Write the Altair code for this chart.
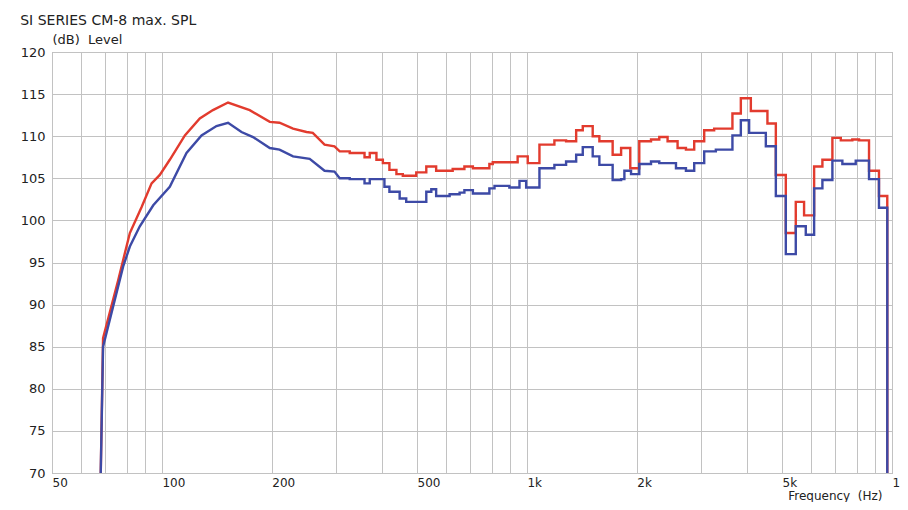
import altair as alt
import pandas as pd

TITLE = "SI SERIES CM-8 max. SPL"
Y_TITLE = "(dB)\u00a0\u00a0Level"
X_TITLE = "Frequency\u00a0\u00a0(Hz)"

GRID_FREQS = [50, 60, 70, 80, 90, 100, 200, 300, 400, 500, 600, 700, 800, 900,
              1000, 2000, 3000, 4000, 5000, 6000, 7000, 8000, 9000, 10000]
LABEL_FREQS = [50, 100, 200, 500, 1000, 2000, 5000, 10000]
Y_TICKS = [70, 75, 80, 85, 90, 95, 100, 105, 110, 115, 120]

# red curve: smooth low-frequency part
RED_LOW_FREQ = [68, 69, 75.9, 81.7, 88.0, 93.7, 98.7, 105.1, 115.6, 127, 138, 151.8,
                174, 197.5, 210, 228.7, 249, 259, 279, 297]
RED_LOW_LEVEL = [70, 86.0, 92.9, 98.5, 101.6, 104.4, 105.4, 107.2, 110.1, 112.1, 113.1, 114.0,
                 113.1, 111.7, 111.6, 110.9, 110.5, 110.4, 109.0, 108.8]
# red curve: banded part (band edges in Hz, level per band)
RED_EDGES = [307, 327, 359, 371, 387, 403, 420, 439, 457, 497.5, 530, 564, 626, 674, 711,
             789, 806, 943, 1005, 1082, 1189, 1280, 1364, 1422, 1514, 1579, 1717, 1811, 1919,
             2031, 2187, 2304, 2428, 2586, 2726, 2872, 3059, 3257, 3655, 3854, 4105, 4558,
             4806, 5118, 5450, 5743, 6119, 6447, 6866, 7240, 7786, 8122, 8651, 9211, 9706]
RED_LEVELS = [108.2, 108.0, 107.5, 108.0, 107.2, 106.8, 106.0, 105.5, 105.3, 105.7,
              106.4, 105.9, 106.1, 106.4, 106.2, 106.7, 106.9, 107.6, 106.8, 109.0,
              109.5, 109.4, 110.7, 111.2, 110.0, 109.4, 107.8, 108.6, 106.2, 109.4,
              109.6, 109.9, 109.4, 108.6, 108.4, 109.4, 110.7, 110.9, 112.7, 114.5,
              113.0, 111.5, 105.4, 98.5, 102.2, 100.6, 106.4, 107.2, 109.8, 109.5,
              109.6, 109.5, 105.9, 102.9]

# blue curve
BLUE_LOW_FREQ = [68, 69, 78.3, 81.7, 87.0, 94.7, 105.1, 116.8, 128.4, 141.1, 151.8,
                 165.2, 177.7, 197.5, 210, 228.7, 254, 279, 297]
BLUE_LOW_LEVEL = [70, 85.0, 94.5, 96.9, 99.3, 101.8, 104.0, 108.0, 110.1, 111.2, 111.6,
                  110.5, 109.9, 108.6, 108.4, 107.6, 107.3, 105.9, 105.8]
BLUE_EDGES = [307, 327, 359, 371, 407, 420, 448, 467, 530, 547, 564, 614, 654, 674, 711,
              789, 815, 895, 954, 995, 1082, 1189, 1280, 1364, 1422, 1514, 1579, 1717, 1811,
              1849, 1928, 2031, 2187, 2304, 2560, 2726, 2872, 3059, 3292, 3655, 3854, 4061,
              4512, 4806, 5118, 5450, 5805, 6119, 6447, 6866, 7312, 7955, 8651, 9211, 9706]
BLUE_LEVELS = [105.0, 104.9, 104.4, 104.9, 104.0, 103.4, 102.6, 102.2, 103.4, 103.7,
               102.9, 103.1, 103.3, 103.6, 103.2, 103.8, 104.1, 103.9, 104.7, 103.9,
               106.2, 106.6, 107.0, 107.8, 108.7, 107.6, 106.6, 104.8, 104.9, 105.9,
               105.5, 106.7, 107.0, 106.8, 106.2, 105.9, 106.8, 108.2, 108.4, 110.1,
               111.9, 110.4, 108.8, 102.9, 96.0, 99.3, 98.3, 103.8, 104.8, 107.1,
               106.7, 107.1, 104.9, 101.5]
END_LEVEL = 70

RED = "#e23b2e"
BLUE = "#3d4aa6"


def build(low_f, low_l, edges, levels):
    pts = list(zip(low_f, low_l))
    for i, lv in enumerate(levels):
        pts.append((edges[i], lv))
        pts.append((edges[i + 1], lv))
    pts.append((edges[-1], END_LEVEL))
    return pd.DataFrame({"order": list(range(len(pts))),
                         "freq": [p[0] for p in pts],
                         "level": [p[1] for p in pts]})


red_df = build(RED_LOW_FREQ, RED_LOW_LEVEL, RED_EDGES, RED_LEVELS)
blue_df = build(BLUE_LOW_FREQ, BLUE_LOW_LEVEL, BLUE_EDGES, BLUE_LEVELS)

label_list = ",".join(str(v) for v in LABEL_FREQS)
x_enc = alt.X(
    "freq:Q",
    scale=alt.Scale(type="log", domain=[50, 10000], nice=False),
    axis=alt.Axis(
        values=GRID_FREQS,
        labelExpr=f"indexof([{label_list}], datum.value) >= 0 ? (datum.value >= 1000 ? (datum.value/1000) + 'k' : '' + datum.value) : ''",
        labelAlign="left", labelPadding=4, labelFontSize=12,
        labelOverlap=False, labelBound=False, labelFlush=False,
        title=X_TITLE, titleX=830, titleY=26, titleAlign="right", titleBaseline="alphabetic",
        titleFontSize=12,
    ),
)
y_enc = alt.Y(
    "level:Q",
    scale=alt.Scale(domain=[70, 120], nice=False, zero=False),
    axis=alt.Axis(
        values=Y_TICKS, labelPadding=7, labelOverlap=False, labelFontSize=13,
        title=Y_TITLE, titleAngle=0, titleX=0, titleY=-9, titleAlign="left",
        titleBaseline="alphabetic", titleFontSize=13,
    ),
)

red_line = alt.Chart(red_df).mark_line(color=RED, strokeWidth=2.4, clip=True).encode(
    x=x_enc, y=y_enc, order="order:Q")
blue_line = alt.Chart(blue_df).mark_line(color=BLUE, strokeWidth=2.4, clip=True).encode(
    x=x_enc, y=y_enc, order="order:Q")

chart = alt.layer(red_line, blue_line).properties(
    width=840, height=421,
    padding={"left": 44, "top": 44, "right": 8, "bottom": 29},
    autosize=alt.AutoSizeParams(type="none"),
    background="white",
    title=alt.TitleParams(TITLE, anchor="start", fontSize=14, font="DejaVu Sans",
                          fontWeight="normal", color="#222222", offset=5),
).configure_view(
    stroke="#9a9a9a", strokeWidth=1
).configure_axis(
    grid=True, gridColor="#c2c2c2", gridWidth=1, domain=False, ticks=False, tickSize=0,
    labelFont="DejaVu Sans", labelColor="#222222",
    titleFont="DejaVu Sans", titleFontWeight="normal", titleColor="#222222",
)

chart.save("out.html", embed_options={"renderer": "svg", "actions": False})
